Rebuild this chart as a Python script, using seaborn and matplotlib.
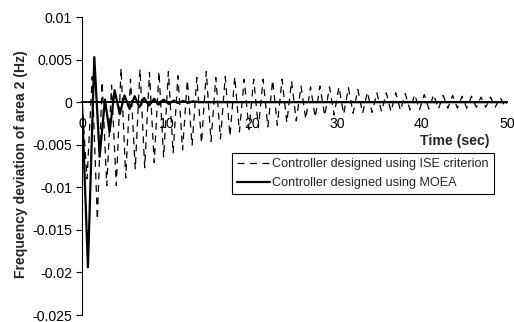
import matplotlib
matplotlib.use("Agg")
import matplotlib.pyplot as plt
import seaborn as sns
import pandas as pd

# ISE-criterion controller: extrema (time in s, deviation in Hz)
ise_t = [0.0, 0.60, 1.20, 1.81, 2.37, 2.92, 3.48, 4.04, 4.60, 5.15, 5.71, 6.27, 6.83, 7.38, 7.94,
         8.50, 9.06, 9.61, 10.17, 10.73, 11.29, 11.84, 12.40, 12.96, 13.52, 14.07, 14.63, 15.19,
         15.75, 16.30, 16.86, 17.42, 17.98, 18.53, 19.09, 19.65, 20.21, 20.76, 21.32, 21.88,
         22.44, 22.99, 23.55, 24.11, 24.67, 25.22, 25.78, 26.34, 26.90, 27.45, 28.01, 28.57,
         29.13, 29.68, 30.24, 30.80, 31.36, 31.91, 32.47, 33.03, 33.59, 34.14, 34.70, 35.26,
         35.82, 36.37, 36.93, 37.49, 38.05, 38.60, 39.16, 39.72, 40.28, 40.83, 41.39, 41.95,
         42.51, 43.06, 43.62, 44.18, 44.74, 45.29, 45.85, 46.41, 46.97, 47.52, 48.08, 48.64,
         49.20, 49.76, 50.0]
ise_y = [0.0, -0.0090, 0.0030, -0.0138, 0.0024, -0.0098, 0.0020, -0.0098, 0.0040, -0.0089,
         0.0027, -0.0079, 0.0039, -0.0077, 0.0035, -0.0071, 0.0036, -0.0065, 0.0036, -0.0060,
         0.0031, -0.0056, 0.0026, -0.0051, 0.0029, -0.0048, 0.0036, -0.0046, 0.0029, -0.0043,
         0.0030, -0.0040, 0.0030, -0.0035, 0.0027, -0.0032, 0.0027, -0.0030, 0.0027, -0.0029,
         0.0026, -0.0027, 0.0027, -0.0024, 0.0025, -0.0022, 0.0019, -0.0020, 0.0018, -0.0018,
         0.0019, -0.0016, 0.0018, -0.0015, 0.0018, -0.0014, 0.0017, -0.0013, 0.0015, -0.0013,
         0.0012, -0.0012, 0.0011, -0.0011, 0.0011, -0.0011, 0.0011, -0.0010, 0.0010, -0.0009,
         0.0009, -0.0009, 0.0009, -0.0008, 0.0009, -0.0008, 0.0008, -0.0007, 0.0008, -0.0007,
         0.0007, -0.0007, 0.0007, -0.0006, 0.0006, -0.0006, 0.0006, -0.0006, 0.0006, -0.0005,
         0.0]

# MOEA controller: extrema
moea_t = [0.0, 0.70, 1.45, 2.08, 2.70, 3.25, 3.84, 4.45, 5.00, 5.60, 6.20, 6.75, 7.30, 7.90,
          8.50, 9.00, 9.60, 10.20, 10.80, 11.30, 11.90, 12.50, 13.00, 14.0, 20.0, 30.0, 40.0, 50.0]
moea_y = [0.0, -0.0194, 0.0053, -0.0064, 0.0003, -0.0035, 0.0014, -0.0014, 0.0008, -0.0008,
          0.0007, -0.0006, 0.0005, -0.0004, 0.0004, -0.0003, 0.0003, -0.0002, 0.0002, -0.0001,
          0.00015, -0.0001, 0.0001, 0.0, 0.0, 0.0, 0.0, 0.0]

series_names = ["Controller designed using ISE criterion", "Controller designed using MOEA"]
x_ticks = [0, 10, 20, 30, 40, 50]
y_ticks = [-0.025, -0.02, -0.015, -0.01, -0.005, 0, 0.005, 0.01]
y_tick_labels = ["-0.025", "-0.02", "-0.015", "-0.01", "-0.005", "0", "0.005", "0.01"]

sns.set_style("white")
plt.rcParams["font.family"] = ["Liberation Sans", "DejaVu Sans"]

df_ise = pd.DataFrame({"t": ise_t, "y": ise_y})
df_moea = pd.DataFrame({"t": moea_t, "y": moea_y})

fig = plt.figure(figsize=(5.14, 3.22), dpi=100)
ax = fig.add_axes([0.1595, 0.0217, 0.8265, 0.9253])

sns.lineplot(data=df_ise, x="t", y="y", ax=ax, color="black", linewidth=0.9,
             label=series_names[0], sort=False, estimator=None)
ax.lines[-1].set_dashes([5.5, 4.5])
sns.lineplot(data=df_moea, x="t", y="y", ax=ax, color="black", linewidth=1.6,
             label=series_names[1], sort=False, estimator=None)

ax.set_xlim(0, 50)
ax.set_ylim(-0.025, 0.01)
ax.set_yticks(y_ticks)
ax.set_yticklabels(y_tick_labels)
ax.set_xticks(x_ticks)
ax.set_xticklabels([str(v) for v in x_ticks])

for s in ["top", "right"]:
    ax.spines[s].set_visible(False)
ax.spines["bottom"].set_position(("data", 0))
ax.spines["bottom"].set_color("black")
ax.spines["bottom"].set_linewidth(1.4)
ax.spines["left"].set_color("black")
ax.spines["left"].set_linewidth(0.8)

ax.tick_params(axis="y", direction="out", length=4, width=0.8, labelsize=10.2, pad=3,
               left=True, colors="black")
ax.tick_params(axis="x", length=0, labelsize=10.2, pad=10.5, colors="black")

ax.set_xlabel("")
ax.set_ylabel("Frequency deviation of area 2 (Hz)", fontsize=10.1, fontweight="bold")
ax.yaxis.set_label_coords(-0.127, 0.507)
ax.text(0.96, 0.584, "Time (sec)", transform=ax.transAxes, ha="right", va="center",
        fontsize=10.2, fontweight="bold")

leg = ax.legend(loc="upper left", bbox_to_anchor=(0.353, 0.544), fontsize=9.1, frameon=True,
                fancybox=False, edgecolor="black", framealpha=1, borderpad=0.4,
                handlelength=2.6, handletextpad=0.2, labelspacing=0.55, borderaxespad=0)
leg.get_frame().set_linewidth(0.8)

fig.savefig("out.png", dpi=100)
